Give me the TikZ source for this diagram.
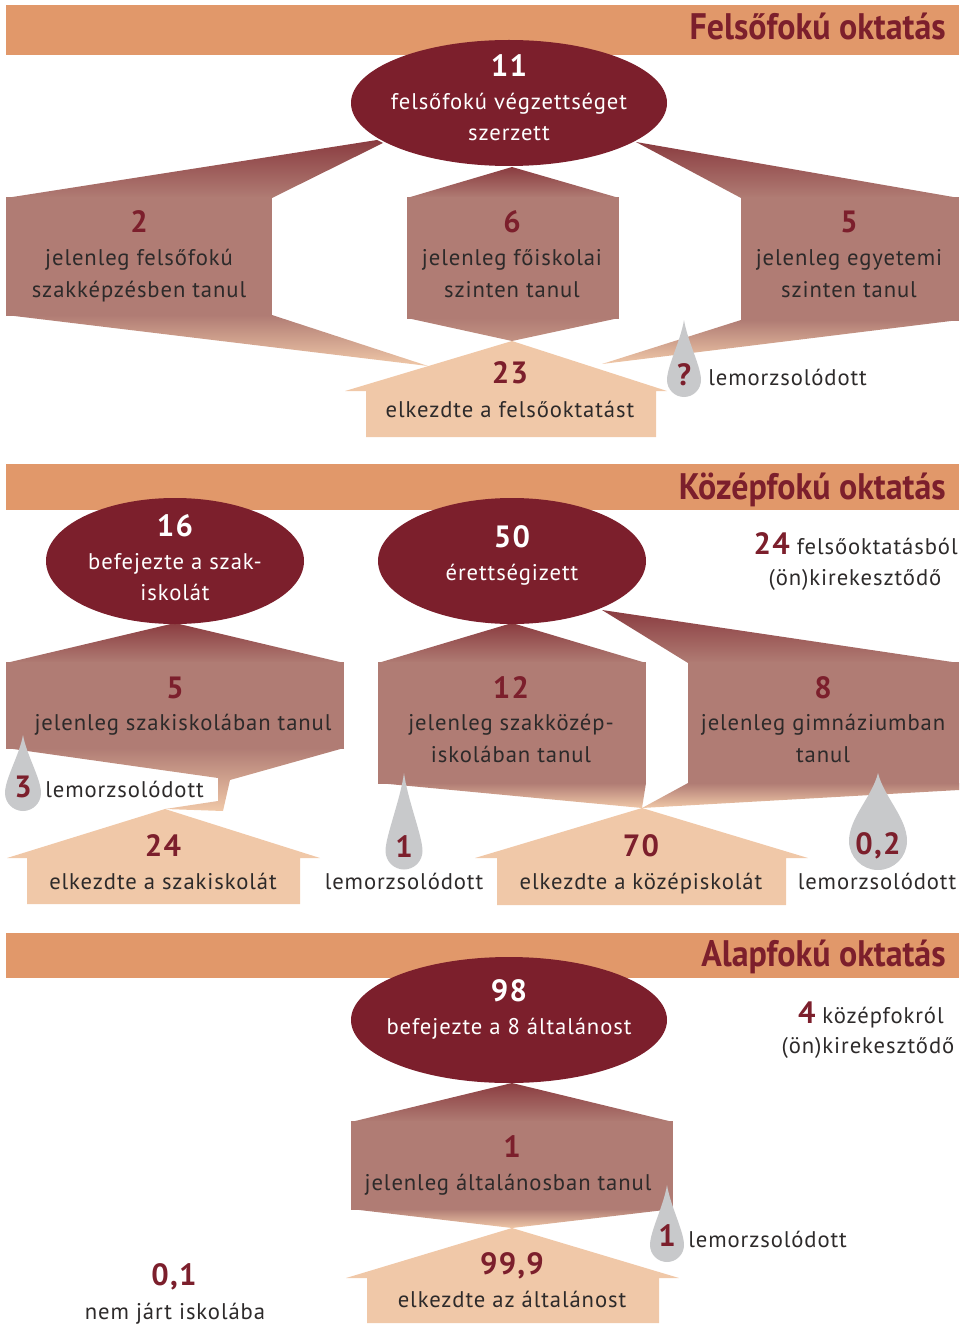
\documentclass[tikz,border=0pt]{standalone}
\usepackage{fontspec}
\setmainfont{PT Sans}[LetterSpace=4]
\newfontfamily\titlefont{PT Sans}[FakeStretch=0.92]
\definecolor{banner}{RGB}{225,152,106}
\definecolor{maroon}{RGB}{124,31,44}
\definecolor{mauve}{RGB}{176,124,116}
\definecolor{dusk}{RGB}{138,60,64}
\definecolor{peach}{RGB}{240,200,168}
\definecolor{dropgrey}{RGB}{200,201,203}
\definecolor{ink}{RGB}{45,42,42}
\newcommand\bignum{\fontsize{17.5}{17.5}\selectfont\bfseries}
\tikzset{
 num/.style={font=\bignum, text=maroon, inner sep=0pt},
 wnum/.style={num, text=white},
 txt/.style={font=\fontsize{12.9}{18}\selectfont, text=ink, anchor=mid, inner sep=0pt, yshift=-1.1pt},
 wtxt/.style={txt, text=white},
 head/.style={font=\titlefont\fontsize{21}{21}\selectfont\bfseries, text=maroon, anchor=base east, inner sep=0pt},
 funnel/.style={top color=dusk, bottom color=mauve},
 fade/.style={top color=mauve, bottom color=peach},
}
\newcommand\teardrop[4]{% x, tip y, centre y, radius
 \fill[dropgrey] (#1,#2) .. controls ({#1+0.2*#4},{#2+0.35*(#3-#2)}) and ({#1+#4},{#3-0.8*#4}) .. ({#1+#4},#3)
 .. controls ({#1+#4},{#3+0.55*#4}) and ({#1+0.55*#4},{#3+#4}) .. (#1,{#3+#4})
 .. controls ({#1-0.55*#4},{#3+#4}) and ({#1-#4},{#3+0.55*#4}) .. ({#1-#4},#3)
 .. controls ({#1-#4},{#3-0.8*#4}) and ({#1-0.2*#4},{#2+0.35*(#3-#2)}) .. cycle;}
\begin{document}
\begin{tikzpicture}[x=0.02cm, y=-0.02cm, line join=round]
 \useasboundingbox (0,0) rectangle (965,1324);
 % felsofoku
 \fill[banner] (6,5) rectangle (959,55);
 \node[head] (felso) at (946,40) {Felsőfokú oktatás};
 \shade[funnel] (6,198) -- (377,140) -- (383,143) -- (272,198) -- cycle;
 \fill[mauve] (6,197) rectangle (272,316);
 \shade[fade] (6,315) -- (272,315) -- (428,366) -- cycle;
 \shade[funnel] (407,198) -- (512,167) -- (619,198) -- cycle;
 \fill[mauve] (407,197) rectangle (619,319);
 \shade[top color=mauve, bottom color=mauve!70!peach] (407,318) -- (619,318) -- (512,341) -- cycle;
 \shade[funnel] (636,142) -- (959,198) -- (741,198) -- cycle;
 \fill[mauve] (741,197) rectangle (959,321);
 \shade[fade] (741,320) -- (959,320) -- (602,364) -- cycle;
 \fill[maroon] (509,103) ellipse [x radius=158, y radius=63];
 \fill[peach] (345,391) -- (512,341) -- (667,391) -- (656,391) -- (656,437) -- (366,437) -- (366,391) -- cycle;
 \teardrop{684}{320}{380}{17}
 \node[wnum] (n11) at (509,66) {11};
 \node[wtxt] (t11a) at (509,103) {felsőfokú végzettséget};
 \node[wtxt] (t11b) at (509,134) {szerzett};
 \node[num] (n2) at (139,222) {2};
 \node[txt] (t2a) at (139,259) {jelenleg felsőfokú};
 \node[txt] (t2b) at (139,291) {szakképzésben tanul};
 \node[num] (n6) at (512,222) {6};
 \node[txt] (t6a) at (512,259) {jelenleg főiskolai};
 \node[txt] (t6b) at (512,291) {szinten tanul};
 \node[num] (n5) at (849,222) {5};
 \node[txt] (t5a) at (849,259) {jelenleg egyetemi};
 \node[txt] (t5b) at (849,291) {szinten tanul};
 \node[num] (n23) at (510,373) {23};
 \node[txt] (t23) at (510,411) {elkezdte a felsőoktatást};
 \node[num] (nq) at (684,375) {?};
 \node[txt, anchor=mid west] (tq) at (708,379) {lemorzsolódott};
 % kozepfoku
 \fill[banner] (6,464) rectangle (959,510);
 \node[head] (kozep) at (946,499) {Középfokú oktatás};
 \shade[funnel] (6,663) -- (175,623) -- (344,663) -- cycle;
 \fill[mauve] (6,662) rectangle (344,749);
 \shade[fade] (6,748) -- (344,748) -- (230,780) -- (223,811) -- (165,809) -- (218,801) -- (218,778) -- cycle;
 \fill[maroon] (175,561) ellipse [x radius=129, y radius=63];
 \fill[peach] (7,858) -- (165,809) -- (320,858) -- (300,858) -- (300,904) -- (27,904) -- (27,858) -- cycle;
 \teardrop{23}{735}{793}{18}
 \shade[funnel] (378,663) -- (512,623) -- (646,663) -- cycle;
 \fill[mauve] (378,662) rectangle (646,784);
 \shade[fade] (378,783) -- (646,783) -- (642,808) -- cycle;
 \shade[funnel] (602,610) -- (959,663) -- (688,663) -- cycle;
 \fill[mauve] (688,662) rectangle (959,784);
 \shade[fade] (688,783) -- (959,783) -- (959,790) -- (642,808) -- cycle;
 \fill[maroon] (512,561) ellipse [x radius=134, y radius=63];
 \fill[peach] (475,858) -- (642,808) -- (808,858) -- (786,858) -- (786,905) -- (497,905) -- (497,858) -- cycle;
 \teardrop{404}{773}{851}{18.5}
 \teardrop{878}{773}{841}{29}
 \node[wnum] (n16) at (175,526) {16};
 \node[wtxt] (t16a) at (175,563) {befejezte a szak-};
 \node[wtxt] (t16b) at (175,594) {iskolát};
 \node[wnum] (n50) at (512,537) {50};
 \node[wtxt] (t50) at (512,574) {érettségizett};
 \node[txt, anchor=base east] (t24f) at (958,553) {{\bignum\color{maroon}24} felsőoktatásból};
 \node[txt] (t24k) at (855,579) {(ön)kirekesztődő};
 \node[num] (n5b) at (175,688) {5};
 \node[txt] (t5c) at (183,724) {jelenleg szakiskolában tanul};
 \node[num] (n12) at (511,688) {12};
 \node[txt] (t12a) at (511,724) {jelenleg szakközép-};
 \node[txt] (t12b) at (511,756) {iskolában tanul};
 \node[num] (n8) at (823,688) {8};
 \node[txt] (t8a) at (823,724) {jelenleg gimnáziumban};
 \node[txt] (t8b) at (823,756) {tanul};
 \node[num] (n3) at (23,787) {3};
 \node[txt, anchor=mid west] (t3) at (45,791) {lemorzsolódott};
 \node[num] (n24) at (163,846) {24};
 \node[txt] (t24) at (163,883) {elkezdte a szakiskolát};
 \node[num] (n1b) at (404,847) {1};
 \node[txt] (t1b) at (404,883) {lemorzsolódott};
 \node[num] (n70) at (641,846) {70};
 \node[txt] (t70) at (641,883) {elkezdte a középiskolát};
 \node[num] (n02) at (878,846) {0,2};
 \node[txt] (t02) at (877,883) {lemorzsolódott};
 % alapfoku
 \fill[banner] (6,933) rectangle (959,978);
 \node[head] (alap) at (946,966) {Alapfokú oktatás};
 \shade[funnel] (351,1122) -- (512,1083) -- (673,1122) -- cycle;
 \fill[mauve] (351,1121) rectangle (673,1210);
 \shade[fade] (351,1209) -- (673,1209) -- (512,1228) -- cycle;
 \fill[maroon] (509,1020) ellipse [x radius=158, y radius=63];
 \fill[peach] (346,1278) -- (512,1228) -- (679,1278) -- (659,1278) -- (659,1323) -- (367,1323) -- (367,1278) -- cycle;
 \teardrop{667}{1185}{1245}{17}
 \node[wnum] (n98) at (509,991) {98};
 \node[wtxt] (t98) at (509,1028) {befejezte a 8 általánost};
 \node[txt, anchor=base east] (t4f) at (944,1022) {{\bignum\color{maroon}4} középfokról};
 \node[txt] (t4k) at (868,1047) {(ön)kirekesztődő};
 \node[num] (n1) at (512,1147) {1};
 \node[txt] (t1) at (508,1184) {jelenleg általánosban tanul};
 \node[num] (n999) at (512,1266) {99,9};
 \node[txt] (t999) at (512,1301) {elkezdte az általánost};
 \node[num] (n1c) at (667,1236) {1};
 \node[txt, anchor=mid west] (t1c) at (688,1241) {lemorzsolódott};
 \node[num] (n01) at (174,1277) {0,1};
 \node[txt] (t01) at (175,1313) {nem járt iskolába};
\end{tikzpicture}
\end{document}
